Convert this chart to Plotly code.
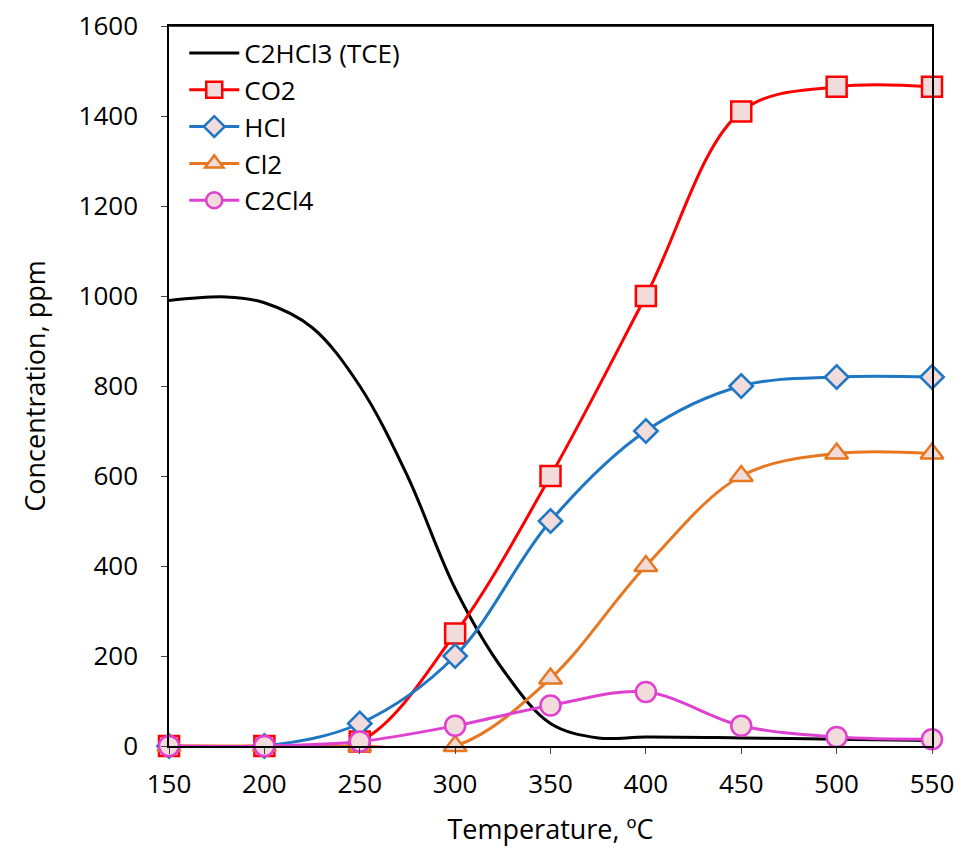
import plotly.graph_objects as go

temps = [150, 200, 250, 300, 350, 400, 450, 500, 550]
tce_x = [150, 180, 200, 225, 250, 275, 300, 325, 350, 375, 400, 450, 500, 550]
tce = [990, 998, 985, 930, 800, 600, 350, 170, 50, 18, 20, 18, 15, 12]
co2 = [0, 0, 10, 250, 600, 1000, 1410, 1465, 1465]
hcl = [0, 0, 50, 200, 500, 700, 800, 820, 820]
cl2 = [0, 0, 0, 0, 150, 400, 600, 650, 650]
c2cl4 = [0, 0, 10, 45, 90, 120, 45, 20, 15]

fill = "#f2dcdb"
fig = go.Figure()
fig.add_trace(go.Scatter(x=tce_x, y=tce, mode="lines", name="C2HCl3 (TCE)",
                         line=dict(color="black", width=3, shape="spline", smoothing=1)))
for name, ys, col, sym, sz in [("CO2", co2, "#ff0000", "square", 20),
                               ("HCl", hcl, "#1f77c4", "diamond", 18),
                               ("Cl2", cl2, "#e87722", "triangle-up", 20),
                               ("C2Cl4", c2cl4, "#e040d0", "circle", 20)]:
    fig.add_trace(go.Scatter(x=temps, y=ys, mode="lines+markers", name=name, cliponaxis=False,
                             line=dict(color=col, width=3, shape="spline", smoothing=1),
                             marker=dict(symbol=sym, size=sz,
                                         color=fill, line=dict(color=col, width=2.5))))

fig.update_layout(
    width=967, height=868, paper_bgcolor="white", plot_bgcolor="white",
    margin=dict(l=161, r=43, t=18, b=130),
    font=dict(family="Open Sans", size=26, color="black"),
    legend=dict(x=0.02, y=0.995, xanchor="left", yanchor="top", bgcolor="rgba(0,0,0,0)",
                font=dict(size=26), itemwidth=50, tracegroupgap=10),
    xaxis=dict(range=[150, 550], dtick=50, showline=True, mirror=True, linecolor="black",
               linewidth=1.5, ticks="outside", ticklen=6, showgrid=False, zeroline=False,
               automargin=False, ticklabelstandoff=8,
               title=dict(text="Temperature, ºC", font=dict(size=27), standoff=20)),
    yaxis=dict(range=[0, 1600], tickvals=[0, 200, 400, 600, 800, 1000, 1200, 1400, 1600],
               showline=True, mirror=True, linecolor="black", ticklabeloverflow="allow",
               linewidth=1.5, ticks="outside", ticklen=6, showgrid=False, zeroline=False,
               automargin=False, ticklabelstandoff=18,
               title=dict(text="Concentration, ppm", font=dict(size=27), standoff=25)),
)
fig.add_shape(type="line", xref="paper", yref="paper", x0=0, x1=1, y0=1, y1=1,
              line=dict(color="black", width=1.5))
fig.write_html("out.html")
